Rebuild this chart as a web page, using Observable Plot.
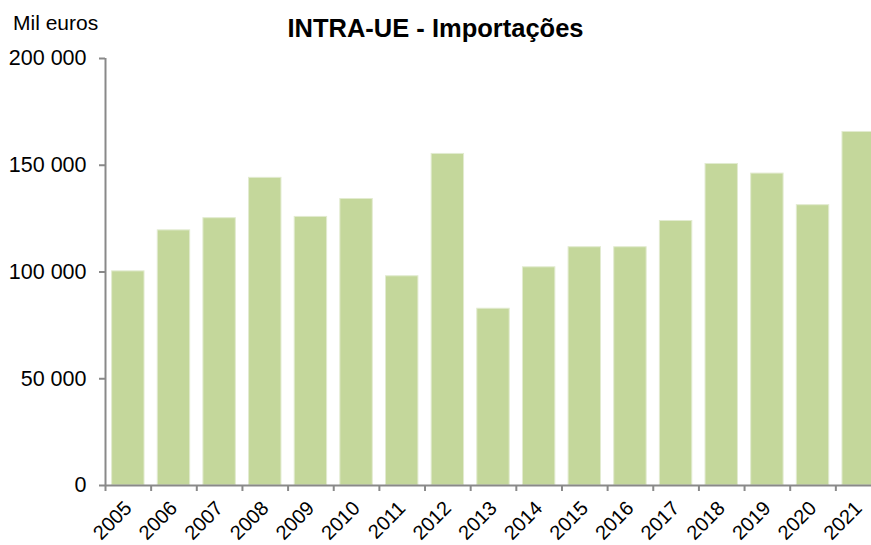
<!DOCTYPE html>
<html>
<head>
<meta charset="utf-8">
<script src="https://cdn.jsdelivr.net/npm/d3@7"></script>
<script src="https://cdn.jsdelivr.net/npm/@observablehq/plot@0.6"></script>
<style>
  html, body { margin: 0; padding: 0; background: white; }
</style>
</head>
<body>
<div id="chart"></div>
<script>
const years = ["2005","2006","2007","2008","2009","2010","2011","2012","2013","2014","2015","2016","2017","2018","2019","2020","2021"];
const values = [100300, 119500, 125200, 144100, 125800, 134200, 98000, 155300, 82800, 102200, 111600, 111600, 123900, 150600, 146100, 131300, 165600];
const yTicks = [0, 50000, 100000, 150000, 200000];
const title = "INTRA-UE - Importações";
const unitLabel = "Mil euros";

const data = years.map((year, i) => ({year, value: values[i]}));

const W = 871, H = 545;
const mL = 105, mT = 58, mB = 60;
const xRange = [105, 881];
const step = (xRange[1] - xRange[0]) / years.length;
const axisGray = "#898989";
const fmt = d => d3.format(",")(d).replace(/,/g, " ");

const chart = Plot.plot({
  width: W, height: H,
  marginLeft: mL, marginTop: mT, marginBottom: mB, marginRight: 0,
  style: {fontFamily: "'Liberation Sans', Arial, sans-serif", background: "white", color: "black"},
  x: {domain: years, range: xRange, paddingInner: 0.29, paddingOuter: 0.145, round: false},
  y: {domain: [0, 200000]},
  marks: [
    Plot.barY(data, {x: "year", y: "value", fill: "#c4d79b", stroke: "#e2ebd0", strokeWidth: 1}),
    Plot.ruleY([0], {stroke: axisGray, strokeWidth: 2}),
    Plot.ruleX([years[0]], {dx: -step / 2, y1: 0, y2: 200000, stroke: axisGray, strokeWidth: 2}),
    Plot.axisY({ticks: yTicks, tickSize: 6, tickPadding: 13, tickFormat: fmt, fontSize: 21.5, stroke: axisGray, strokeWidth: 2, fill: "black", label: null}),
    Plot.axisX({tickSize: 6, tickFormat: () => "", dx: -step / 2, stroke: axisGray, strokeWidth: 2, label: null}),
    Plot.text(years, {x: d => d, text: d => d, frameAnchor: "bottom", rotate: -45, textAnchor: "end", lineAnchor: "bottom", dx: 4.5, dy: 24, fontSize: 20, fill: "black"}),
    Plot.text([title], {text: d => d, frameAnchor: "top", lineAnchor: "middle", dx: 435 - (mL + W) / 2, dy: 28.7 - mT, fontSize: 25.5, fontWeight: "bold", fill: "black"}),
    Plot.text([unitLabel], {text: d => d, frameAnchor: "top-left", lineAnchor: "middle", textAnchor: "start", dx: 12.5 - mL, dy: 22.4 - mT, fontSize: 21, fill: "black"})
  ]
});
document.getElementById("chart").appendChild(chart);
</script>
</body>
</html>
